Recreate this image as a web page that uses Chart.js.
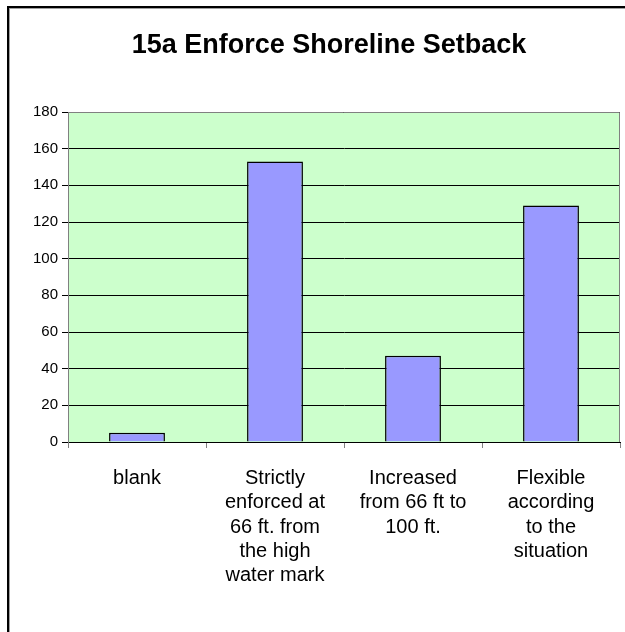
<!DOCTYPE html>
<html>
<head>
<meta charset="utf-8">
<script src="https://cdn.jsdelivr.net/npm/chart.js@4"></script>
<style>
  body { margin: 0; background: #fff; }
  canvas { display: block; }
</style>
</head>
<body>
<canvas id="myChart" width="625" height="632"></canvas>
<script>
const title = '15a Enforce Shoreline Setback';
const labels = [
    ['blank'],
    ['Strictly', 'enforced at', '66 ft. from', 'the high', 'water mark'],
    ['Increased', 'from 66 ft to', '100 ft.'],
    ['Flexible', 'according', 'to the', 'situation'],
];
const responses = [5, 153, 47, 129];
const yTicks = [0, 20, 40, 60, 80, 100, 120, 140, 160, 180];

// plot background, plot border, title and the chart frame (cut off right and bottom)
const chartDecor = {
    id: 'chartDecor',
    beforeDatasetsDraw(chart) {
        const a = chart.chartArea;
        const ctx = chart.ctx;
        ctx.save();
        ctx.globalCompositeOperation = 'destination-over';
        ctx.fillStyle = '#CCFFCC';
        ctx.fillRect(a.left, a.top, a.right - a.left, a.bottom - a.top);
        ctx.restore();
    },
    afterDraw(chart) {
        const a = chart.chartArea;
        const ctx = chart.ctx;
        ctx.save();
        ctx.strokeStyle = '#808080';
        ctx.lineWidth = 1;
        ctx.beginPath();
        ctx.moveTo(a.left, a.top + 0.5);
        ctx.lineTo(a.right - 0.5, a.top + 0.5);
        ctx.lineTo(a.right - 0.5, a.bottom);
        ctx.stroke();

        // title is centred on the whole (cropped) chart, not the canvas
        ctx.fillStyle = '#000';
        ctx.font = 'bold 27px "Liberation Sans", Arial, sans-serif';
        ctx.textAlign = 'center';
        ctx.textBaseline = 'middle';
        ctx.fillText(title, 329, 46);

        // frame
        ctx.fillRect(7, 6, chart.width - 7, 2);
        ctx.fillRect(7, 6, 2, chart.height - 6);
        ctx.fillStyle = '#a0a0a0';
        ctx.fillRect(9, 8, chart.width - 9, 1);
        ctx.fillRect(9, 8, 1, chart.height - 8);
        ctx.restore();
    }
};

const data = {
    labels: labels,
    datasets: [{
        data: responses,
        backgroundColor: '#9999FF',
        borderColor: '#000000',
        borderWidth: 1.5,
        barPercentage: 0.405,
        categoryPercentage: 1,
    }]
};

const config = {
    type: 'bar',
    data: data,
    options: {
        responsive: false,
        animation: false,
        layout: { padding: { left: 0, right: 5, top: 112, bottom: 0 } },
        plugins: {
            legend: { display: false },
            tooltip: { enabled: false },
            title: { display: false },
        },
        scales: {
            x: {
                afterFit(s) { s.height = 190; },
                grid: { offset: true, drawOnChartArea: false, tickLength: 6, color: '#808080' },
                border: { color: '#000' },
                ticks: {
                    color: '#000',
                    padding: 18,
                    maxRotation: 0,
                    autoSkip: false,
                    font: { family: 'Liberation Sans, Arial, sans-serif', size: 20, lineHeight: 1.22 },
                },
            },
            y: {
                min: 0,
                max: 180,
                afterFit(s) { s.width = 68; },
                afterBuildTicks(s) { s.ticks = yTicks.map(v => ({ value: v })); },
                grid: { color: '#000', tickLength: 6 },
                border: { color: '#808080' },
                ticks: {
                    color: '#000',
                    padding: 4,
                    font: { family: 'Liberation Sans, Arial, sans-serif', size: 15 },
                },
            },
        },
    },
    plugins: [chartDecor],
};

const myChart = new Chart(
    document.getElementById('myChart'),
    config
);
</script>
</body>
</html>
